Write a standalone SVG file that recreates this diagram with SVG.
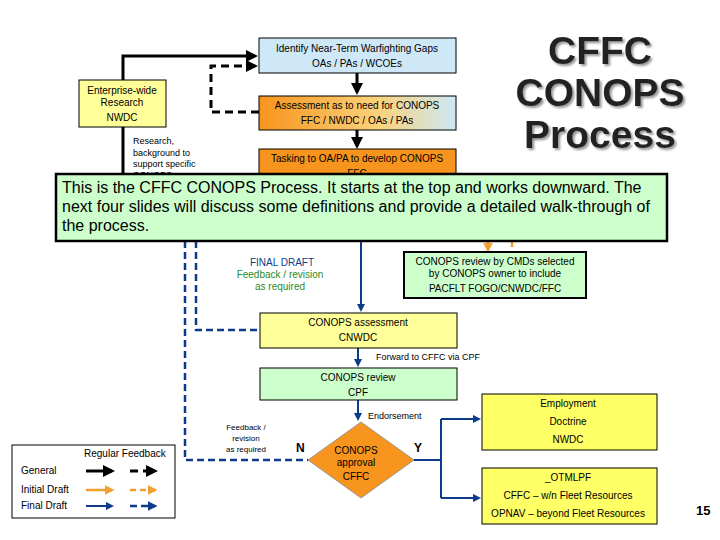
<svg xmlns="http://www.w3.org/2000/svg" width="720" height="540" viewBox="0 0 720 540">
<style>
text{font-family:"Liberation Sans",Arial,sans-serif;font-size:10px;fill:#000}
.c{text-anchor:middle}
.bx{stroke:#000;stroke-width:1}
.blk{stroke:#000;stroke-width:3;fill:none}
.blkd{stroke:#000;stroke-width:3;fill:none;stroke-dasharray:8,5}
.blu{stroke:#0d3b8a;stroke-width:2;fill:none}
.blud{stroke:#0d3b8a;stroke-width:2.5;fill:none;stroke-dasharray:7,4}
.org{stroke:#f0a030;stroke-width:2.5;fill:none}
.orgd{stroke:#f0a030;stroke-width:2.5;fill:none;stroke-dasharray:6,4}
.ttl{font-size:39px;font-weight:bold;fill:#222;text-anchor:middle}
</style>
<defs>
<marker id="ak" markerWidth="4" markerHeight="4" refX="3" refY="2" orient="auto" markerUnits="strokeWidth"><path d="M0,0L4,2L0,4z" fill="#000"/></marker>
<marker id="ab" markerWidth="4" markerHeight="4" refX="3" refY="2" orient="auto" markerUnits="strokeWidth"><path d="M0,0L4,2L0,4z" fill="#0d3b8a"/></marker>
<marker id="ao" markerWidth="4" markerHeight="4" refX="3" refY="2" orient="auto" markerUnits="strokeWidth"><path d="M0,0L4,2L0,4z" fill="#f0a030"/></marker>
<linearGradient id="g2" x1="0" y1="0" x2="1" y2="0"><stop offset="0" stop-color="#f7941d"/><stop offset="0.6" stop-color="#fbd27a"/><stop offset="1" stop-color="#cde8f6"/></linearGradient>
<filter id="sh"><feDropShadow dx="2" dy="2" stdDeviation="1" flood-color="#999"/></filter>
</defs>
<rect width="720" height="540" fill="#fff"/>

<g id="title" filter="url(#sh)">
<text class="ttl" x="600" y="64">CFFC</text>
<text class="ttl" x="600" y="106">CONOPS</text>
<text class="ttl" x="600" y="148">Process</text>
</g>

<g id="connectors">
<path class="blk" d="M123,80V56H255" marker-end="url(#ak)"/>
<path class="blkd" d="M259,112H211V66H255" marker-end="url(#ak)"/>
<path class="blk" d="M357,73V92" marker-end="url(#ak)"/>
<path class="blk" d="M357,130V146" marker-end="url(#ak)"/>
<path class="blk" d="M123,127V174"/>
<path class="blk" d="M357,178V174"/>
<path class="org" d="M488,241V250" marker-end="url(#ao)"/>
<path class="orgd" d="M512,241V250"/>
<path class="blu" d="M361,241V310" marker-end="url(#ab)"/>
<path class="blud" d="M196,241V330H260"/>
<path class="blud" d="M185,241V460H308"/>
<path class="blu" stroke-width="3" d="M358,348V365" marker-end="url(#ab)"/>
<path class="blu" stroke-width="3" d="M358,400V419" marker-end="url(#ab)"/>
<path class="blu" stroke-width="3" d="M414,460H441"/>
<path class="blu" stroke-width="2.5" d="M441,419V498M441,419H478M441,498H478"/>
<path class="blu" stroke-width="2.5" d="M470,419H479" marker-end="url(#ab)"/>
<path class="blu" stroke-width="2.5" d="M470,498H479" marker-end="url(#ab)"/>
</g>

<g id="n-identify"><rect class="bx" x="259" y="38" width="197" height="35" fill="#cfe8f8"/>
<text class="c" x="357" y="52">Identify Near-Term Warfighting Gaps</text><text class="c" x="357" y="67">OAs / PAs / WCOEs</text></g>
<g id="n-assess"><rect class="bx" x="259" y="96" width="197" height="34" fill="url(#g2)"/>
<text class="c" x="357" y="109">Assessment as to need for CONOPS</text><text class="c" x="357" y="124">FFC / NWDC / OAs / PAs</text></g>
<g id="n-tasking"><rect class="bx" x="259" y="149" width="197" height="35" fill="#f7941d"/>
<text class="c" x="357" y="162">Tasking to OA/PA to develop CONOPS</text><text class="c" x="357" y="177">FFC</text></g>
<g id="n-enterprise"><rect class="bx" x="79" y="80" width="87" height="47" fill="#ffff99"/>
<text class="c" x="122" y="94">Enterprise-wide</text><text class="c" x="122" y="106">Research</text><text class="c" x="122" y="121">NWDC</text></g>
<g id="t-research" font-size="9"><text x="133" y="144" style="font-size:9px">Research,</text><text x="133" y="156" style="font-size:9px">background to</text><text x="133" y="167" style="font-size:9px">support specific</text><text x="133" y="178" style="font-size:9px">CONOPS</text></g>

<g id="callout"><rect x="56" y="174" width="611" height="67" fill="#ccffcc" stroke="#000" stroke-width="2.5"/>
<text x="62" y="193" style="font-size:16px">This is the CFFC CONOPS Process. It starts at the top and works downward. The</text>
<text x="62" y="212" style="font-size:16px">next four slides will discuss some definitions and provide a detailed walk-through of</text>
<text x="62" y="231" style="font-size:16px">the process.</text></g>

<g id="t-final"><text class="c" x="282" y="266" fill="#0d3b8a" style="fill:#0d3b8a">FINAL DRAFT</text>
<text class="c" x="280" y="278" style="fill:#2a8a2a">Feedback / revision</text><text class="c" x="280" y="290" style="fill:#2a8a2a">as required</text></g>

<g id="n-cmds"><rect x="404" y="252" width="182" height="46" fill="#ccffcc" stroke="#000" stroke-width="2"/>
<text class="c" x="495" y="265">CONOPS review by CMDs selected</text><text class="c" x="495" y="277">by CONOPS owner to include</text><text class="c" x="495" y="292">PACFLT FOGO/CNWDC/FFC</text></g>

<g id="n-cassess"><rect class="bx" x="260" y="313" width="197" height="35" fill="#ffff99"/>
<text class="c" x="358" y="326">CONOPS assessment</text><text class="c" x="358" y="341">CNWDC</text></g>
<text x="376" y="360" style="font-size:9px">Forward to CFFC via CPF</text>
<g id="n-creview"><rect class="bx" x="260" y="368" width="197" height="32" fill="#ccffcc"/>
<text class="c" x="358" y="381">CONOPS review</text><text class="c" x="358" y="396">CPF</text></g>
<text x="368" y="419" style="font-size:9px">Endorsement</text>

<g id="n-approval"><path d="M361,422L414,460L361,498L308,460Z" fill="#f7941d" stroke="#999"/>
<text class="c" x="356" y="454">CONOPS</text><text class="c" x="356" y="466">approval</text><text class="c" x="356" y="480">CFFC</text></g>
<text x="296" y="452" style="font-size:12px;font-weight:bold">N</text>
<text x="414" y="452" style="font-size:12px;font-weight:bold">Y</text>
<g style="font-size:8px"><text class="c" x="246" y="430" style="font-size:8px">Feedback /</text><text class="c" x="246" y="441" style="font-size:8px">revision</text><text class="c" x="246" y="452" style="font-size:8px">as required</text></g>

<g id="n-employment"><rect class="bx" x="482" y="394" width="175" height="56" fill="#ffff66"/>
<text class="c" x="568" y="407">Employment</text><text class="c" x="568" y="425">Doctrine</text><text class="c" x="568" y="443">NWDC</text></g>
<g id="n-otmlpf"><rect class="bx" x="482" y="468" width="175" height="56" fill="#ffff66"/>
<text class="c" x="568" y="481">_OTMLPF</text><text class="c" x="568" y="499">CFFC – w/n Fleet Resources</text><text class="c" x="568" y="517">OPNAV – beyond Fleet Resources</text></g>

<g id="legend"><rect class="bx" x="12" y="445" width="163" height="73" fill="#fff"/>
<text x="84" y="457">Regular  Feedback</text>
<text x="21" y="474">General</text><text x="21" y="493">Initial Draft</text><text x="21" y="509">Final Draft</text>
<path class="blk" d="M86,471H112" marker-end="url(#ak)"/>
<path class="blkd" stroke-dasharray="5,3" d="M130,471H155" marker-end="url(#ak)"/>
<path class="org" d="M86,490H112" marker-end="url(#ao)"/>
<path class="orgd" stroke-dasharray="4,3" d="M130,490H155" marker-end="url(#ao)"/>
<path class="blu" stroke-width="2.5" d="M86,506H112" marker-end="url(#ab)"/>
<path class="blud" stroke-dasharray="4,3" d="M130,506H155" marker-end="url(#ab)"/></g>

<text x="696" y="515" style="font-size:13px;font-weight:bold">15</text>
</svg>
